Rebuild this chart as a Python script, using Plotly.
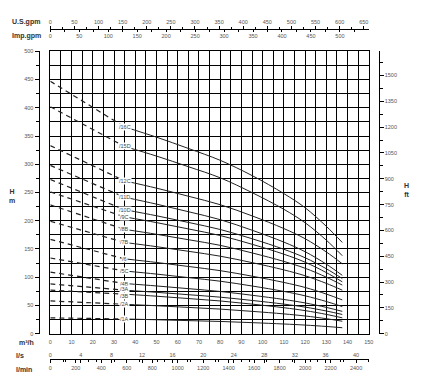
import plotly.graph_objects as go

# ---------------- data ----------------
MODELS = ['/16C', '/15D', '/12C', '/11D', '/10D', '/9C', '/8B', '/7B',
          '/6', '/5C', '/4B', '/3A', '/3B', '/2A', '/1A']
H_SHUTOFF = [447, 402, 333, 298, 273, 251, 228, 199, 167, 134, 109, 88, 77, 58, 28]

Q_DASH_END = 35
Q_SOLID = [35, 50, 65, 80, 95, 110, 120, 130, 137.5]
H_16C = [366, 348, 328, 307, 280, 248, 223, 190, 161.5]
H_15D = [331.5, 314.5, 295.7, 276, 249.8, 220.2, 196.4, 165.5, 138]
H_12C = [270.6, 257.7, 243.4, 228.4, 208.6, 186.1, 168.1, 144.6, 123.7]
H_11D = [241.6, 229.4, 216.0, 201.9, 183.2, 162.1, 145.1, 123.0, 103.3]
H_10D = [219.5, 208.8, 197.0, 184.5, 168.1, 149.4, 134.4, 114.9, 97.6]
H_9C = [206.8, 196.7, 185.5, 173.8, 158.3, 140.7, 126.5, 108.1, 91.8]
H_8B = [184.7, 176.0, 166.4, 156.4, 143.0, 127.9, 115.8, 100.0, 86.0]
H_7B = [161.5, 154.1, 145.9, 137.2, 125.8, 112.9, 102.5, 89.0, 77.0]
H_6 = [132.5, 126.1, 119.0, 111.6, 101.8, 90.7, 81.8, 70.1, 59.8]
H_5C = [111, 105.5, 99.3, 92.9, 84.4, 74.8, 67.0, 56.9, 48.0]
H_4B = [88.8, 84.5, 79.7, 74.7, 68.0, 60.5, 54.4, 46.5, 39.5]
H_3A = [77, 73.2, 69.0, 64.6, 58.8, 52.3, 47.0, 40.1, 34.0]
H_3B = [70, 66.3, 62.2, 57.9, 52.3, 45.9, 40.8, 34.1, 28.0]
H_2A = [52, 49.4, 46.5, 43.5, 39.5, 35.0, 31.3, 26.5, 22.0]
H_1A = [26, 24.6, 23.1, 21.6, 19.5, 17.1, 15.2, 12.7, 10.5]
SOLID = [H_16C, H_15D, H_12C, H_11D, H_10D, H_9C, H_8B, H_7B,
         H_6, H_5C, H_4B, H_3A, H_3B, H_2A, H_1A]
LABEL_NUDGE = {'/3A': 1.5, '/3B': -1.5}

M3H_TICKS = list(range(0, 151, 10))
HM_TICKS = list(range(0, 501, 50))
HFT_TICKS = list(range(0, 1501, 150))
USGPM_TICKS = list(range(0, 651, 50))
IMPGPM_TICKS = list(range(0, 501, 50))
LS_TICKS = list(range(0, 41, 4))
LMIN_TICKS = list(range(0, 2401, 200))

# unit conversions (axis ranges derived from m3/h and m)
Q_MAX = 150
H_MAX = 500
USGPM_PER_M3H = 1 / 0.22712
IMPGPM_PER_M3H = 1 / 0.27277
LS_PER_M3H = 1 / 3.6
LMIN_PER_M3H = 1000 / 60
FT_PER_M = 1 / 0.3048

# ---------------- layout geometry ----------------
OFF = 8                      # page body margin
W, H = 414, 368
def px(x):
    return (x - OFF) / W
def py(y):
    return (H - (y - OFF)) / H

XDOM = [px(49), px(373)]
YDOM = [py(336), py(49)]

CURVE = '#222222'
TICKC = '#555555'
FONT = 'Liberation Sans, Arial, sans-serif'

fig = go.Figure()

for name, h0, hs in zip(MODELS, H_SHUTOFF, SOLID):
    fig.add_trace(go.Scatter(x=[0, Q_DASH_END], y=[h0, hs[0]], mode='lines',
                             line=dict(color=CURVE, width=1.2, dash='5px,4px'),
                             hoverinfo='skip', showlegend=False))
    fig.add_trace(go.Scatter(x=Q_SOLID, y=hs, mode='lines',
                             line=dict(color=CURVE, width=1, shape='spline'),
                             name=name, showlegend=False))
    fig.add_annotation(x=Q_DASH_END, y=hs[0], xref='x', yref='y', text=name,
                       showarrow=False, bgcolor='white', borderpad=0,
                       yshift=LABEL_NUDGE.get(name, 0),
                       font=dict(size=5.5, color='#444444', family=FONT))

small = dict(size=5.5, color=TICKC, family=FONT)
clear = 'rgba(0,0,0,0)'

fig.update_layout(
    width=W, height=H, margin=dict(l=0, r=0, t=0, b=0),
    paper_bgcolor='white', plot_bgcolor='white',
    showlegend=False, font=dict(family=FONT),
    xaxis=dict(domain=XDOM, range=[0, Q_MAX], tickvals=M3H_TICKS,
               ticks='outside', ticklen=3, tickcolor=clear,
               showgrid=True, gridcolor='black', gridwidth=1,
               minor=dict(dtick=5, showgrid=True, gridcolor='black', gridwidth=1),
               showline=True, linecolor='black', linewidth=1, mirror=True,
               zeroline=False, tickfont=small, anchor='y'),
    yaxis=dict(domain=YDOM, range=[0, H_MAX], tickvals=HM_TICKS, showticklabels=False,
               ticks='', showgrid=True, gridcolor='black', gridwidth=1,
               minor=dict(dtick=25, showgrid=True, gridcolor='black', gridwidth=1),
               showline=True, linecolor='black', linewidth=1, mirror=True,
               zeroline=False, anchor='x'),
    yaxis2=dict(overlaying='y', anchor='free', position=px(37), side='left',
                range=[0, H_MAX], tickvals=HM_TICKS, ticks='outside', ticklen=4,
                tickcolor='black', minor=dict(dtick=25, ticks='outside', ticklen=3,
                                              tickcolor='black'),
                showgrid=False, zeroline=False, showline=True, linecolor='black',
                tickfont=small),
    yaxis3=dict(overlaying='y', anchor='free', position=px(383), side='right',
                range=[0, H_MAX * FT_PER_M], tickvals=HFT_TICKS, ticks='outside',
                ticklen=4, tickcolor='black',
                minor=dict(dtick=75, ticks='outside', ticklen=3, tickcolor='black'),
                showgrid=False, zeroline=False, showline=True, linecolor='black',
                tickfont=small),
    xaxis2=dict(overlaying='x', anchor='free', position=py(26), side='top',
                range=[0, Q_MAX * USGPM_PER_M3H], tickvals=USGPM_TICKS,
                ticks='outside', ticklen=3, tickcolor='black',
                minor=dict(dtick=25, ticks='outside', ticklen=2, tickcolor='black'),
                showgrid=False, zeroline=False, showline=True, linecolor='black',
                tickfont=small),
    xaxis3=dict(overlaying='x', anchor='free', position=py(26), side='bottom',
                range=[0, Q_MAX * IMPGPM_PER_M3H], tickvals=IMPGPM_TICKS,
                ticks='outside', ticklen=2, tickcolor='black',
                minor=dict(dtick=25, ticks='outside', ticklen=2, tickcolor='black'),
                showgrid=False, zeroline=False, showline=False,
                tickfont=small),
    xaxis4=dict(overlaying='x', anchor='free', position=py(362), side='top',
                range=[0, Q_MAX * LS_PER_M3H], tickvals=LS_TICKS,
                ticks='inside', ticklen=3, tickcolor='black',
                minor=dict(dtick=2, ticks='inside', ticklen=2, tickcolor='black'),
                showgrid=False, zeroline=False, showline=True, linecolor='black',
                tickfont=small),
    xaxis5=dict(overlaying='x', anchor='free', position=py(362), side='bottom',
                range=[0, Q_MAX * LMIN_PER_M3H], tickvals=LMIN_TICKS,
                ticks='outside', ticklen=3, tickcolor='black',
                minor=dict(dtick=100, ticks='outside', ticklen=2, tickcolor='black'),
                showgrid=False, zeroline=False, showline=False,
                tickfont=small),
)

# invisible traces to activate the extra axes
for xa, ya in [('x2', 'y'), ('x3', 'y'), ('x4', 'y'), ('x5', 'y'), ('x', 'y2'), ('x', 'y3')]:
    fig.add_trace(go.Scatter(x=[None], y=[None], xaxis=xa, yaxis=ya,
                             showlegend=False, hoverinfo='skip'))

title_font = dict(size=7, color='#333333', family=FONT)
for text, x, y in [('<b>U.S.gpm</b>', 24, 19), ('<b>Imp.gpm</b>', 25, 33),
                   ('<b>m³/h</b>', 25, 345), ('<b>l/s</b>', 18, 358),
                   ('<b>l/min</b>', 22, 372), ('<b>H<br>m</b>', 10, 196),
                   ('<b>H<br>ft</b>', 412, 190)]:
    fig.add_annotation(x=px(x), y=py(y), xref='paper', yref='paper', text=text,
                       showarrow=False, font=title_font, xanchor='center',
                       yanchor='middle')

fig.write_html("out.html")
